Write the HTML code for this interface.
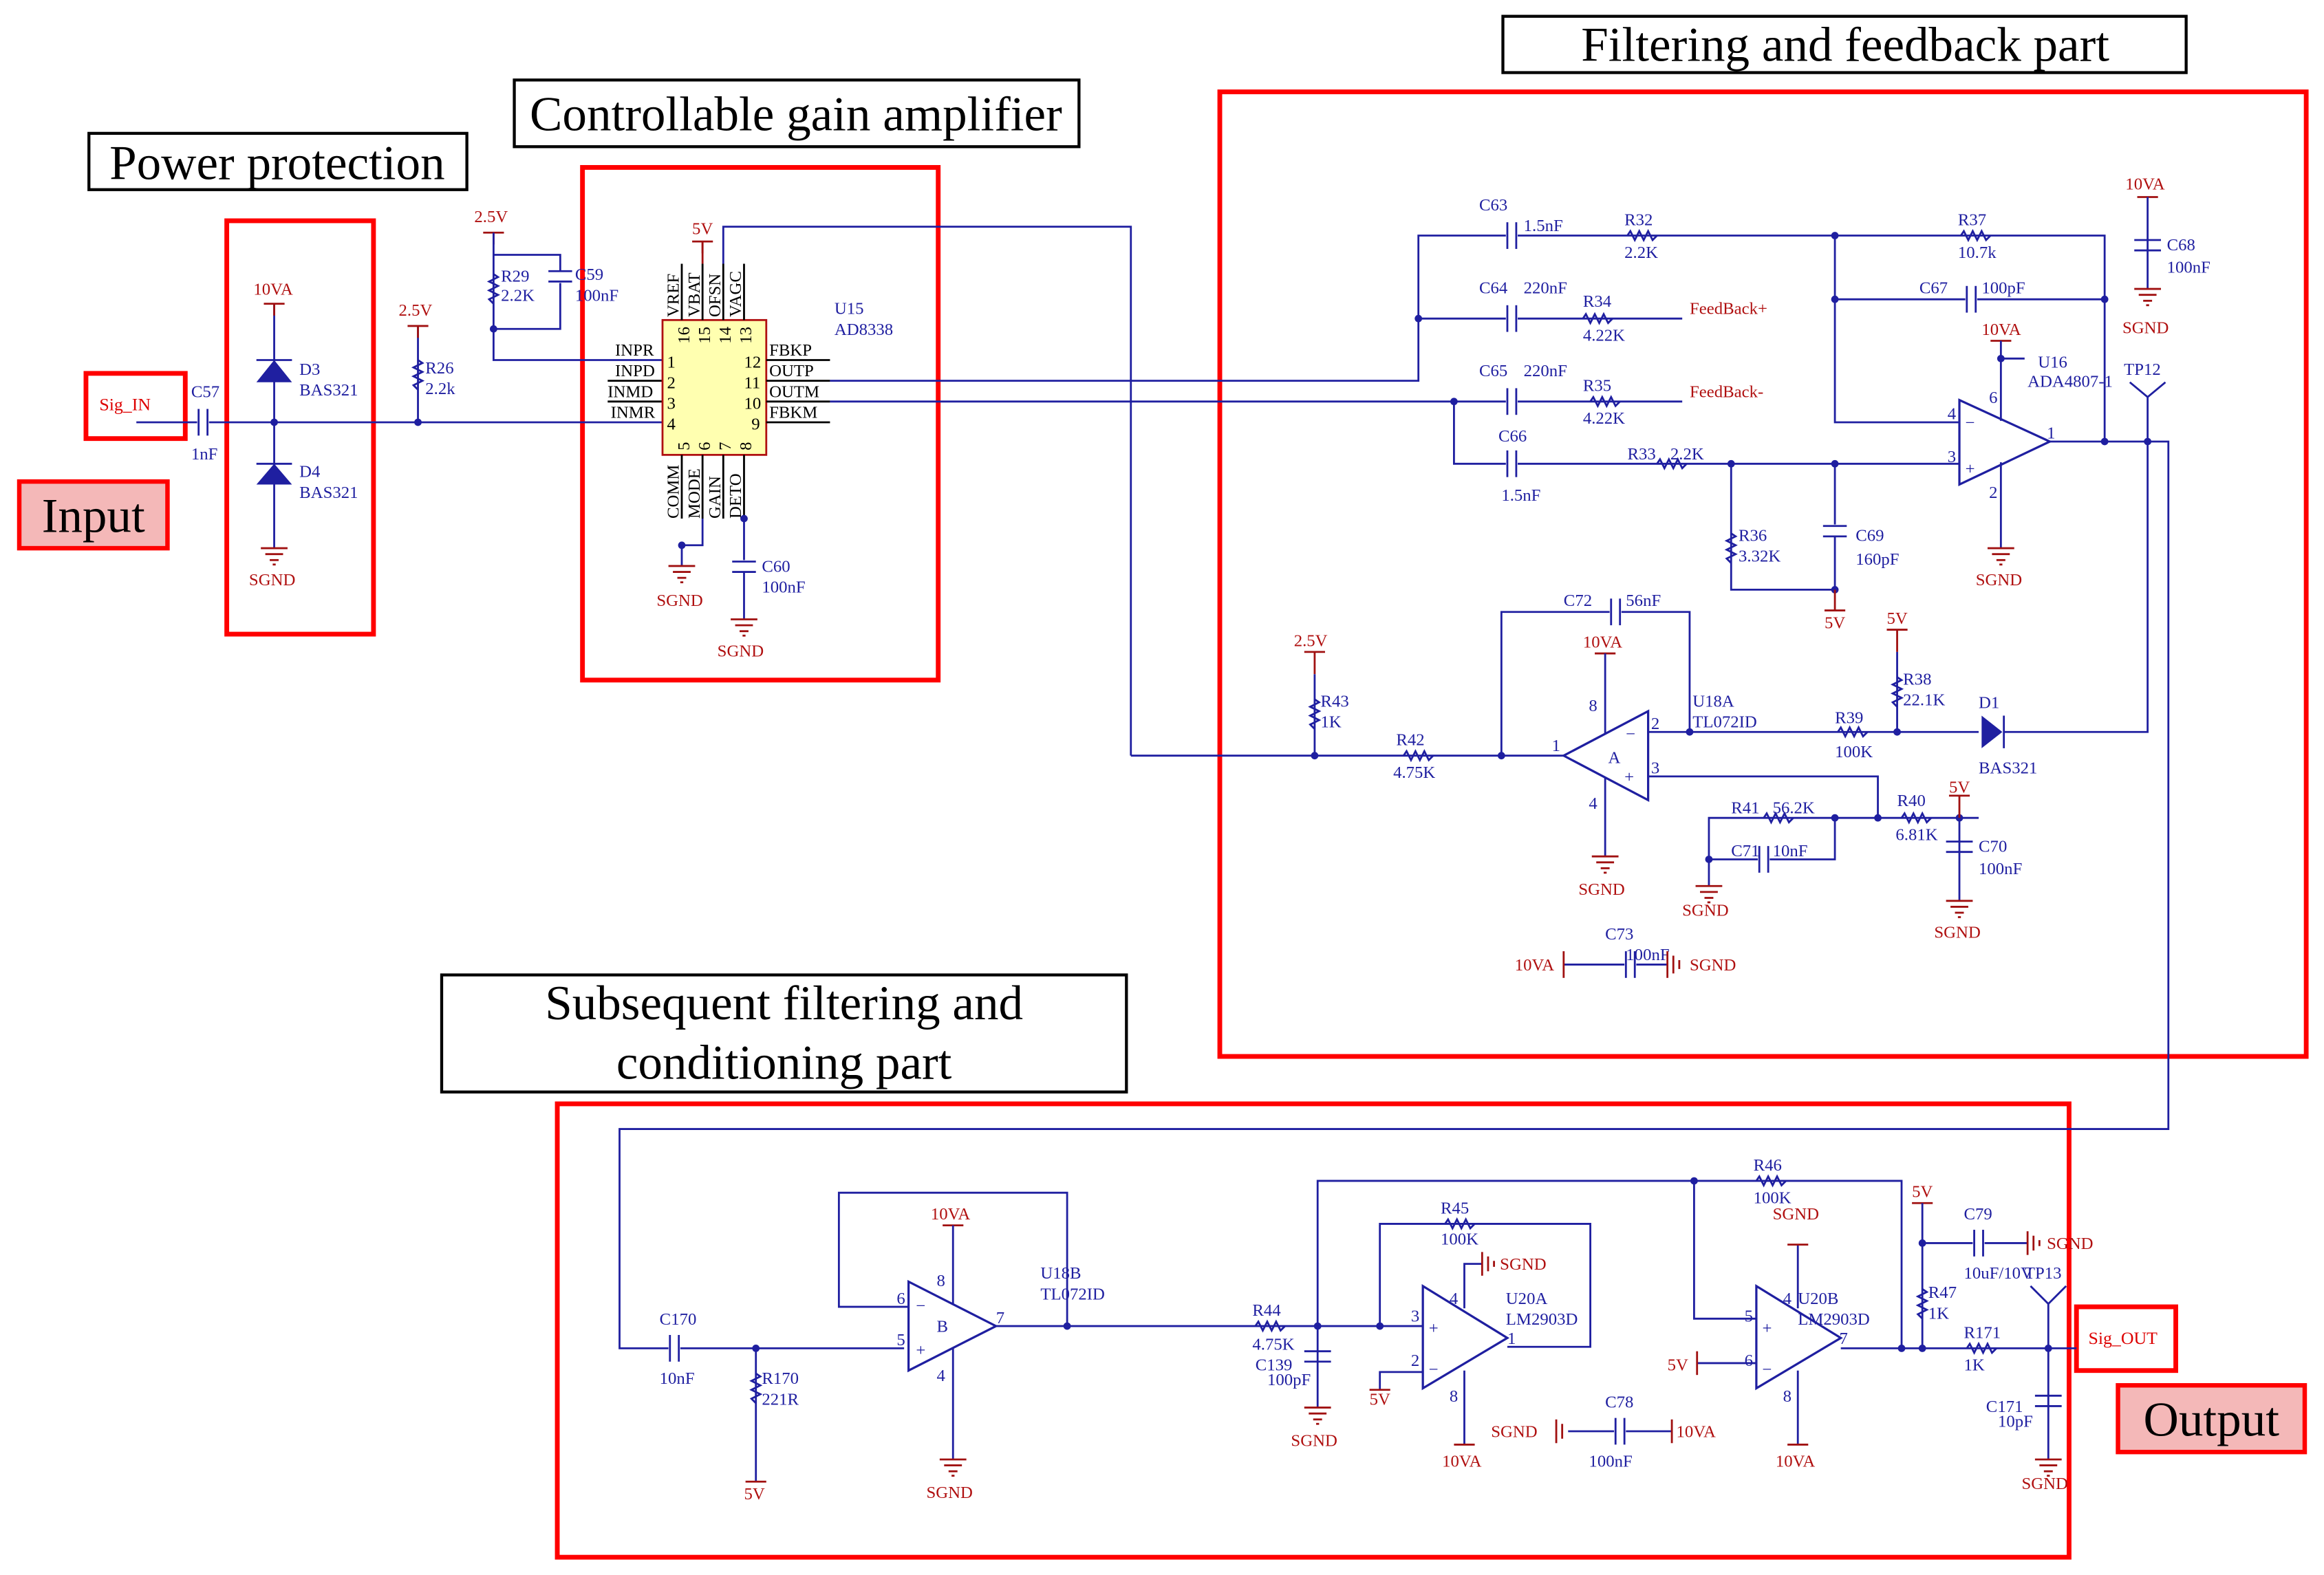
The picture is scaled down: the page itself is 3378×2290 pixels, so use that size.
<!DOCTYPE html>
<html><head><meta charset="utf-8"><style>
html,body{margin:0;padding:0;background:#fff}
svg{display:block}
text{font-family:"Liberation Serif",serif}
.w{stroke:#1f1fa0;stroke-width:1.3;fill:none}
.k{stroke:#000;stroke-width:1.3;fill:none}
.r{stroke:#a01010;stroke-width:1.3;fill:none}
.L{fill:#1f1fa0;font-size:11.5px}
.P{fill:#b01010;font-size:11.5px}
.B{fill:#000;font-size:11.5px}
.box{fill:none;stroke:#ff0000;stroke-width:3.2}
.tb{fill:#fff;stroke:#000;stroke-width:2}
.T{font-size:33px;fill:#000}
</style></head><body>
<svg width="3378" height="2290" viewBox="0 0 1568 1063" preserveAspectRatio="none" xmlns="http://www.w3.org/2000/svg">
<defs>
<g id="res"><polyline class="w" points="-10,0 -8,-3 -5,3 -2,-3 1,3 4,-3 7,3 10,0"/></g>
<g id="cap"><rect x="-4" y="-9" width="8" height="18" fill="#fff"/><line class="w" x1="-3" y1="-9" x2="-3" y2="9"/><line class="w" x1="3" y1="-9" x2="3" y2="9"/></g>
<g id="gnd"><line class="r" x1="-9" y1="0" x2="9" y2="0"/><line class="r" x1="-6" y1="4" x2="6" y2="4"/><line class="r" x1="-3" y1="8" x2="3" y2="8"/><line class="r" x1="-1" y1="11" x2="1" y2="11"/></g>
<g id="pwr"><line class="r" x1="-7" y1="0" x2="7" y2="0"/><line class="r" x1="0" y1="0" x2="0" y2="8"/></g>
</defs>

<!-- titles -->
<rect class="tb" x="60" y="90" width="255" height="38"/><text class="T" x="187" y="121" text-anchor="middle">Power protection</text>
<rect class="tb" x="347" y="54" width="381" height="45"/><text class="T" x="537" y="88" text-anchor="middle">Controllable gain amplifier</text>
<rect class="tb" x="1014" y="11" width="461" height="38"/><text class="T" x="1245" y="41" text-anchor="middle">Filtering and feedback part</text>
<rect class="tb" x="298" y="658" width="462" height="79"/><text class="T" x="529" y="688" text-anchor="middle">Subsequent filtering and</text><text class="T" x="529" y="728" text-anchor="middle">conditioning part</text>
<rect x="13" y="325" width="100" height="45" fill="#f4b8b8" stroke="#f00" stroke-width="3"/><text class="T" x="63" y="359" text-anchor="middle">Input</text>
<rect x="1429" y="935" width="126" height="45" fill="#f4b8b8" stroke="#f00" stroke-width="3"/><text class="T" x="1492" y="969" text-anchor="middle">Output</text>

<!-- red boxes -->
<rect class="box" x="153" y="149" width="99" height="279"/>
<rect class="box" x="393" y="113" width="240" height="346"/>
<rect class="box" x="823" y="62" width="733" height="651"/>
<rect class="box" x="376" y="745" width="1020" height="306"/>
<rect class="box" x="58" y="252" width="67" height="44"/>
<rect class="box" x="1401" y="882" width="67" height="43"/>

<!-- ===== input section ===== -->
<text x="67" y="277" fill="#d00" font-size="12" font-family="Liberation Mono">Sig_IN</text>
<line class="w" x1="92" y1="285" x2="447" y2="285"/>
<use href="#cap" x="137" y="285"/><text class="L" x="129" y="268">C57</text><text class="L" x="129" y="310">1nF</text>
<circle cx="185" cy="285" r="2.5" fill="#1f1fa0"/>
<line class="w" x1="185" y1="205" x2="185" y2="370"/>
<use href="#pwr" x="185" y="205"/>
<text class="P" x="171" y="199">10VA</text>
<polygon points="173,258 197,258 185,243" fill="#1f1fa0"/><line class="w" x1="173" y1="243" x2="197" y2="243"/>
<text class="L" x="202" y="253">D3</text><text class="L" x="202" y="267">BAS321</text>
<polygon points="173,327 197,327 185,313" fill="#1f1fa0"/><line class="w" x1="173" y1="313" x2="197" y2="313"/>
<text class="L" x="202" y="322">D4</text><text class="L" x="202" y="336">BAS321</text>
<use href="#gnd" x="185" y="370"/><text class="P" x="168" y="395">SGND</text>
<circle cx="282" cy="285" r="2.5" fill="#1f1fa0"/>
<line class="w" x1="282" y1="220" x2="282" y2="285"/><use href="#pwr" x="282" y="220"/><text class="P" x="269" y="213">2.5V</text>
<use href="#res" transform="translate(282,253) rotate(90)"/><text class="L" x="287" y="252">R26</text><text class="L" x="287" y="266">2.2k</text>
<use href="#pwr" x="333" y="157"/><text class="P" x="320" y="150">2.5V</text>
<polyline class="w" points="333,157 333,243 447,243"/>
<use href="#res" transform="translate(333,195) rotate(90)"/><text class="L" x="338" y="190">R29</text><text class="L" x="338" y="203">2.2K</text>
<polyline class="w" points="333,172 378,172 378,222 333,222"/><circle cx="333" cy="222" r="2.5" fill="#1f1fa0"/>
<rect x="370" y="183" width="16" height="8" fill="#fff"/><line class="w" x1="370" y1="183" x2="386" y2="183"/><line class="w" x1="370" y1="190" x2="386" y2="190"/>
<text class="L" x="388" y="189">C59</text><text class="L" x="388" y="203">100nF</text>
<line class="k" x1="410" y1="257" x2="447" y2="257"/><line class="k" x1="410" y1="271" x2="447" y2="271"/>
<text class="B" x="415" y="240">INPR</text><text class="B" x="415" y="254">INPD</text><text class="B" x="410" y="268">INMD</text><text class="B" x="412" y="282">INMR</text>

<!-- chip -->
<rect x="447" y="216" width="70" height="91" fill="#ffffb0" stroke="#b01010" stroke-width="1.3"/>
<line class="k" x1="460" y1="178" x2="460" y2="216"/><line class="k" x1="474" y1="178" x2="474" y2="216"/><line class="k" x1="488" y1="178" x2="488" y2="216"/><line class="k" x1="502" y1="178" x2="502" y2="216"/>
<line class="r" x1="474" y1="163" x2="474" y2="178"/><use href="#pwr" x="474" y="163"/><text class="P" x="467" y="158">5V</text>
<polyline class="w" points="488,178 488,153 763,153 763,510"/>
<g class="B" font-size="11"><text transform="translate(458,214) rotate(-90)">VREF</text><text transform="translate(472,214) rotate(-90)">VBAT</text><text transform="translate(486,214) rotate(-90)">OFSN</text><text transform="translate(500,214) rotate(-90)">VAGC</text>
<text transform="translate(465,232) rotate(-90)">16</text><text transform="translate(479,232) rotate(-90)">15</text><text transform="translate(493,232) rotate(-90)">14</text><text transform="translate(507,232) rotate(-90)">13</text>
<text x="450" y="248">1</text><text x="450" y="262">2</text><text x="450" y="276">3</text><text x="450" y="290">4</text>
<text x="502" y="248">12</text><text x="502" y="262">11</text><text x="502" y="276">10</text><text x="507" y="290">9</text>
<text transform="translate(465,304) rotate(-90)">5</text><text transform="translate(479,304) rotate(-90)">6</text><text transform="translate(493,304) rotate(-90)">7</text><text transform="translate(507,304) rotate(-90)">8</text>
<text transform="translate(458,350) rotate(-90)">COMM</text><text transform="translate(472,350) rotate(-90)">MODE</text><text transform="translate(486,350) rotate(-90)">GAIN</text><text transform="translate(500,350) rotate(-90)">DETO</text>
<text x="519" y="240">FBKP</text><text x="519" y="254">OUTP</text><text x="519" y="268">OUTM</text><text x="519" y="282">FBKM</text></g>
<line class="k" x1="517" y1="243" x2="560" y2="243"/><line class="k" x1="517" y1="257" x2="560" y2="257"/><line class="k" x1="517" y1="271" x2="560" y2="271"/><line class="k" x1="517" y1="285" x2="560" y2="285"/>
<line class="k" x1="460" y1="307" x2="460" y2="350"/><line class="k" x1="474" y1="307" x2="474" y2="350"/><line class="k" x1="488" y1="307" x2="488" y2="350"/><line class="k" x1="502" y1="307" x2="502" y2="350"/>
<text class="L" x="563" y="212">U15</text><text class="L" x="563" y="226">AD8338</text>
<polyline class="w" points="474,350 474,368 460,368 460,382"/><circle cx="460" cy="368" r="2.5" fill="#1f1fa0"/>
<use href="#gnd" x="460" y="382"/><text class="P" x="443" y="409">SGND</text>
<polyline class="w" points="502,350 502,418"/><circle cx="502" cy="350" r="2.5" fill="#1f1fa0"/>
<rect x="494" y="378" width="16" height="8" fill="#fff"/><line class="w" x1="494" y1="379" x2="510" y2="379"/><line class="w" x1="494" y1="386" x2="510" y2="386"/>
<text class="L" x="514" y="386">C60</text><text class="L" x="514" y="400">100nF</text>
<use href="#gnd" x="502" y="418"/><text class="P" x="484" y="443">SGND</text>

<!-- ===== filtering/feedback ===== -->
<polyline class="w" points="560,257 957,257 957,159 1420,159 1420,298"/>
<use href="#cap" x="1020" y="159"/><text class="L" x="998" y="142">C63</text><text class="L" x="1028" y="156">1.5nF</text>
<use href="#res" x="1108" y="159"/><text class="L" x="1096" y="152">R32</text><text class="L" x="1096" y="174">2.2K</text>
<use href="#res" x="1333" y="159"/><text class="L" x="1321" y="152">R37</text><text class="L" x="1321" y="174">10.7k</text>
<circle cx="1238" cy="159" r="2.5" fill="#1f1fa0"/><circle cx="957" cy="215" r="2.5" fill="#1f1fa0"/>
<polyline class="w" points="957,215 1135,215"/>
<use href="#cap" x="1020" y="215"/><text class="L" x="998" y="198">C64</text><text class="L" x="1028" y="198">220nF</text>
<use href="#res" x="1078" y="215"/><text class="L" x="1068" y="207">R34</text><text class="L" x="1068" y="230">4.22K</text>
<text class="P" x="1140" y="212">FeedBack+</text>
<polyline class="w" points="1238,159 1238,285 1322,285"/>
<polyline class="w" points="1238,202 1420,202"/><circle cx="1238" cy="202" r="2.5" fill="#1f1fa0"/><circle cx="1420" cy="202" r="2.5" fill="#1f1fa0"/>
<use href="#cap" x="1330" y="202"/><text class="L" x="1295" y="198">C67</text><text class="L" x="1337" y="198">100pF</text>
<polyline class="w" points="560,271 1135,271"/><circle cx="981" cy="271" r="2.5" fill="#1f1fa0"/>
<use href="#cap" x="1020" y="271"/><text class="L" x="998" y="254">C65</text><text class="L" x="1028" y="254">220nF</text>
<use href="#res" x="1083" y="271"/><text class="L" x="1068" y="264">R35</text><text class="L" x="1068" y="286">4.22K</text>
<text class="P" x="1140" y="268">FeedBack-</text>
<polyline class="w" points="981,271 981,313 1322,313"/>
<use href="#cap" x="1020" y="313"/><text class="L" x="1011" y="298">C66</text><text class="L" x="1013" y="338">1.5nF</text>
<use href="#res" x="1128" y="313"/><text class="L" x="1098" y="310">R33</text><text class="L" x="1127" y="310">2.2K</text>
<circle cx="1168" cy="313" r="2.5" fill="#1f1fa0"/><circle cx="1238" cy="313" r="2.5" fill="#1f1fa0"/>
<polyline class="w" points="1168,313 1168,398 1238,398 1238,313"/><circle cx="1238" cy="398" r="2.5" fill="#1f1fa0"/>
<use href="#res" transform="translate(1168,370) rotate(90)"/><text class="L" x="1173" y="365">R36</text><text class="L" x="1173" y="379">3.32K</text>
<rect x="1230" y="354" width="16" height="8" fill="#fff"/><line class="w" x1="1230" y1="355" x2="1246" y2="355"/><line class="w" x1="1230" y1="362" x2="1246" y2="362"/>
<text class="L" x="1252" y="365">C69</text><text class="L" x="1252" y="381">160pF</text>
<line class="r" x1="1238" y1="398" x2="1238" y2="412"/><line class="r" x1="1231" y1="412" x2="1245" y2="412"/><text class="P" x="1231" y="424">5V</text>
<!-- U16 -->
<polygon points="1322,270 1322,327 1383,298" fill="#fff" stroke="#1f1fa0" stroke-width="1.5"/>
<text class="L" x="1326" y="289" font-size="14">−</text><text class="L" x="1326" y="320" font-size="14">+</text>
<text class="L" x="1314" y="283">4</text><text class="L" x="1314" y="312">3</text><text class="L" x="1381" y="296">1</text>
<line class="w" x1="1350" y1="312" x2="1350" y2="370"/>
<text class="P" x="1337" y="226">10VA</text><line class="r" x1="1343" y1="230" x2="1357" y2="230"/><polyline class="w" points="1350,230 1350,284"/><circle cx="1350" cy="242" r="2.5" fill="#1f1fa0"/><line class="w" x1="1350" y1="242" x2="1366" y2="242"/>
<text class="L" x="1342" y="272">6</text><text class="L" x="1342" y="336">2</text>
<use href="#gnd" x="1350" y="370"/><text class="P" x="1333" y="395">SGND</text>
<text class="L" x="1375" y="248">U16</text><text class="L" x="1368" y="261">ADA4807-1</text>
<polyline class="w" points="1383,298 1463,298 1463,762 418,762 418,910 610,910"/>
<circle cx="1420" cy="298" r="2.5" fill="#1f1fa0"/><circle cx="1449" cy="298" r="2.5" fill="#1f1fa0"/>
<line class="w" x1="1449" y1="298" x2="1449" y2="268"/><line class="w" x1="1449" y1="268" x2="1437" y2="258"/><line class="w" x1="1449" y1="268" x2="1461" y2="258"/>
<text class="L" x="1433" y="253">TP12</text>
<text class="P" x="1434" y="128">10VA</text><polyline class="r" points="1442,133 1456,133"/><line class="w" x1="1449" y1="133" x2="1449" y2="195"/>
<line class="w" x1="1440" y1="162" x2="1458" y2="162"/><line class="w" x1="1440" y1="169" x2="1458" y2="169"/>
<text class="L" x="1462" y="169">C68</text><text class="L" x="1462" y="184">100nF</text>
<use href="#gnd" x="1449" y="195"/><text class="P" x="1432" y="225">SGND</text>

<!-- lower op amp U18A -->
<polyline class="w" points="763,510 1055,510"/>
<circle cx="887" cy="510" r="2.5" fill="#1f1fa0"/><circle cx="1013" cy="510" r="2.5" fill="#1f1fa0"/>
<line class="r" x1="887" y1="440" x2="887" y2="455"/><line class="r" x1="880" y1="440" x2="894" y2="440"/><text class="P" x="873" y="436">2.5V</text>
<line class="w" x1="887" y1="455" x2="887" y2="510"/><use href="#res" transform="translate(887,482) rotate(90)"/><text class="L" x="891" y="477">R43</text><text class="L" x="891" y="491">1K</text>
<use href="#res" x="957" y="510"/><text class="L" x="942" y="503">R42</text><text class="L" x="940" y="525">4.75K</text>
<polyline class="w" points="1013,510 1013,413 1140,413 1140,494"/>
<use href="#cap" x="1090" y="413"/><text class="L" x="1055" y="409">C72</text><text class="L" x="1097" y="409">56nF</text>
<polygon points="1055,510 1112,480 1112,540" fill="#fff" stroke="#1f1fa0" stroke-width="1.5"/>
<text class="L" x="1097" y="499" font-size="14">−</text><text class="L" x="1096" y="528" font-size="14">+</text><text class="L" x="1085" y="515">A</text>
<text class="L" x="1114" y="492">2</text><text class="L" x="1114" y="522">3</text><text class="L" x="1047" y="507">1</text>
<text class="L" x="1072" y="480">8</text><text class="L" x="1072" y="546">4</text>
<text class="P" x="1068" y="437">10VA</text><line class="r" x1="1076" y1="441" x2="1090" y2="441"/><line class="w" x1="1083" y1="441" x2="1083" y2="495"/>
<line class="w" x1="1083" y1="525" x2="1083" y2="578"/><use href="#gnd" x="1083" y="578"/><text class="P" x="1065" y="604">SGND</text>
<text class="L" x="1142" y="477">U18A</text><text class="L" x="1142" y="491">TL072ID</text>
<polyline class="w" points="1112,494 1335,494"/><circle cx="1140" cy="494" r="2.5" fill="#1f1fa0"/><circle cx="1280" cy="494" r="2.5" fill="#1f1fa0"/>
<use href="#res" x="1250" y="494"/><text class="L" x="1238" y="488">R39</text><text class="L" x="1238" y="511">100K</text>
<line class="r" x1="1280" y1="425" x2="1280" y2="440"/><line class="r" x1="1273" y1="425" x2="1287" y2="425"/><text class="P" x="1273" y="421">5V</text>
<line class="w" x1="1280" y1="440" x2="1280" y2="494"/><use href="#res" transform="translate(1280,467) rotate(90)"/><text class="L" x="1284" y="462">R38</text><text class="L" x="1284" y="476">22.1K</text>
<polygon points="1337,483 1337,505 1351,494" fill="#1f1fa0"/><line class="w" x1="1352" y1="483" x2="1352" y2="505"/>
<text class="L" x="1335" y="478">D1</text><text class="L" x="1335" y="522">BAS321</text>
<polyline class="w" points="1352,494 1449,494 1449,298"/>
<polyline class="w" points="1112,524 1267,524 1267,552 1335,552"/><circle cx="1267" cy="552" r="2.5" fill="#1f1fa0"/>
<polyline class="w" points="1267,552 1153,552 1153,598"/>
<use href="#res" x="1200" y="552"/><text class="L" x="1168" y="549">R41</text><text class="L" x="1196" y="549">56.2K</text>
<polyline class="w" points="1153,580 1238,580 1238,552"/><circle cx="1153" cy="580" r="2.5" fill="#1f1fa0"/><circle cx="1238" cy="552" r="2.5" fill="#1f1fa0"/>
<use href="#cap" x="1190" y="580"/><text class="L" x="1168" y="578">C71</text><text class="L" x="1196" y="578">10nF</text>
<use href="#gnd" x="1153" y="598"/><text class="P" x="1135" y="618">SGND</text>
<use href="#res" x="1293" y="552"/><text class="L" x="1280" y="544">R40</text><text class="L" x="1279" y="567">6.81K</text>
<circle cx="1322" cy="552" r="2.5" fill="#1f1fa0"/>
<line class="r" x1="1322" y1="537" x2="1322" y2="552"/><line class="r" x1="1315" y1="537" x2="1329" y2="537"/><text class="P" x="1315" y="535">5V</text>
<line class="w" x1="1322" y1="552" x2="1322" y2="608"/>
<line class="w" x1="1313" y1="568" x2="1331" y2="568"/><line class="w" x1="1313" y1="575" x2="1331" y2="575"/>
<text class="L" x="1335" y="575">C70</text><text class="L" x="1335" y="590">100nF</text>
<use href="#gnd" x="1322" y="608"/><text class="P" x="1305" y="633">SGND</text>
<text class="P" x="1022" y="655">10VA</text><line class="w" x1="1055" y1="651" x2="1125" y2="651"/><line class="r" x1="1055" y1="642" x2="1055" y2="660"/>
<use href="#cap" x="1100" y="651"/><text class="L" x="1083" y="634">C73</text><text class="L" x="1097" y="648">100nF</text>
<line class="r" x1="1125" y1="642" x2="1125" y2="660"/><line class="r" x1="1129" y1="645" x2="1129" y2="657"/><line class="r" x1="1133" y1="648" x2="1133" y2="654"/><text class="P" x="1140" y="655">SGND</text>

<!-- ===== subsequent ===== -->
<use href="#cap" x="455" y="910"/><text class="L" x="445" y="894">C170</text><text class="L" x="445" y="934">10nF</text>
<circle cx="510" cy="910" r="2.5" fill="#1f1fa0"/>
<line class="w" x1="510" y1="910" x2="510" y2="1000"/><use href="#res" transform="translate(510,937) rotate(90)"/>
<text class="L" x="514" y="934">R170</text><text class="L" x="514" y="948">221R</text>
<line class="r" x1="503" y1="1000" x2="517" y2="1000"/><text class="P" x="502" y="1012">5V</text>
<polygon points="613,865 613,925 672,895" fill="#fff" stroke="#1f1fa0" stroke-width="1.5"/>
<text class="L" x="618" y="885" font-size="14">−</text><text class="L" x="618" y="915" font-size="14">+</text><text class="L" x="632" y="899">B</text>
<text class="L" x="605" y="880">6</text><text class="L" x="605" y="908">5</text><text class="L" x="672" y="893">7</text>
<text class="L" x="632" y="868">8</text><text class="L" x="632" y="932">4</text>
<polyline class="w" points="613,882 566,882 566,805 720,805 720,895"/>
<text class="P" x="628" y="823">10VA</text><line class="r" x1="636" y1="827" x2="650" y2="827"/><line class="w" x1="643" y1="827" x2="643" y2="880"/>
<line class="w" x1="643" y1="910" x2="643" y2="985"/><use href="#gnd" x="643" y="985"/><text class="P" x="625" y="1011">SGND</text>
<text class="L" x="702" y="863">U18B</text><text class="L" x="702" y="877">TL072ID</text>
<polyline class="w" points="672,895 960,895"/><circle cx="720" cy="895" r="2.5" fill="#1f1fa0"/><circle cx="889" cy="895" r="2.5" fill="#1f1fa0"/><circle cx="931" cy="895" r="2.5" fill="#1f1fa0"/>
<use href="#res" x="857" y="895"/><text class="L" x="845" y="888">R44</text><text class="L" x="845" y="911">4.75K</text>
<line class="w" x1="889" y1="895" x2="889" y2="950"/>
<line class="w" x1="880" y1="912" x2="898" y2="912"/><line class="w" x1="880" y1="919" x2="898" y2="919"/>
<text class="L" x="847" y="925">C139</text><text class="L" x="855" y="935">100pF</text>
<use href="#gnd" x="889" y="950"/><text class="P" x="871" y="976">SGND</text>
<polyline class="w" points="889,895 889,797 1283,797 1283,910"/><circle cx="1143" cy="797" r="2.5" fill="#1f1fa0"/>
<polyline class="w" points="931,895 931,826 1073,826 1073,909 1017,909"/>
<use href="#res" x="985" y="826"/><text class="L" x="972" y="819">R45</text><text class="L" x="972" y="840">100K</text>
<polygon points="960,868 960,937 1017,903" fill="#fff" stroke="#1f1fa0" stroke-width="1.5"/>
<text class="L" x="964" y="900" font-size="14">+</text><text class="L" x="964" y="928" font-size="14">−</text>
<text class="L" x="952" y="892">3</text><text class="L" x="952" y="922">2</text><text class="L" x="1017" y="907">1</text>
<text class="L" x="978" y="880">4</text><text class="L" x="978" y="946">8</text>
<polyline class="w" points="988,883 988,853 1000,853"/><line class="r" x1="1000" y1="845" x2="1000" y2="861"/><line class="r" x1="1004" y1="848" x2="1004" y2="858"/><line class="r" x1="1008" y1="851" x2="1008" y2="855"/><text class="P" x="1012" y="857">SGND</text>
<text class="L" x="1016" y="880">U20A</text><text class="L" x="1016" y="894">LM2903D</text>
<polyline class="w" points="960,926 931,926 931,938"/><line class="r" x1="924" y1="938" x2="938" y2="938"/><text class="P" x="924" y="948">5V</text>
<line class="w" x1="988" y1="925" x2="988" y2="975"/><line class="r" x1="981" y1="975" x2="995" y2="975"/><text class="P" x="973" y="990">10VA</text>
<text class="P" x="1006" y="970">SGND</text><line class="r" x1="1050" y1="958" x2="1050" y2="974"/><line class="r" x1="1054" y1="961" x2="1054" y2="971"/><line class="w" x1="1058" y1="966" x2="1128" y2="966"/>
<use href="#cap" x="1093" y="966"/><text class="L" x="1083" y="950">C78</text><text class="L" x="1072" y="990">100nF</text>
<line class="r" x1="1128" y1="958" x2="1128" y2="974"/><text class="P" x="1131" y="970">10VA</text>
<polyline class="w" points="1143,797 1143,890 1185,890"/>
<use href="#res" x="1195" y="797"/><text class="L" x="1183" y="790">R46</text><text class="L" x="1183" y="812">100K</text>
<polygon points="1185,868 1185,937 1242,903" fill="#fff" stroke="#1f1fa0" stroke-width="1.5"/>
<text class="L" x="1189" y="900" font-size="14">+</text><text class="L" x="1189" y="928" font-size="14">−</text>
<text class="L" x="1177" y="892">5</text><text class="L" x="1177" y="922">6</text><text class="L" x="1241" y="907">7</text>
<text class="L" x="1203" y="880">4</text><text class="L" x="1203" y="946">8</text>
<polyline class="w" points="1213,883 1213,840"/><line class="r" x1="1206" y1="840" x2="1220" y2="840"/><text class="P" x="1196" y="823">SGND</text>
<text class="L" x="1213" y="880">U20B</text><text class="L" x="1213" y="894">LM2903D</text>
<polyline class="w" points="1185,920 1145,920"/><line class="r" x1="1145" y1="912" x2="1145" y2="928"/><text class="P" x="1125" y="925">5V</text>
<line class="w" x1="1213" y1="925" x2="1213" y2="975"/><line class="r" x1="1206" y1="975" x2="1220" y2="975"/><text class="P" x="1198" y="990">10VA</text>
<polyline class="w" points="1242,910 1401,910"/><circle cx="1283" cy="910" r="2.5" fill="#1f1fa0"/><circle cx="1297" cy="910" r="2.5" fill="#1f1fa0"/><circle cx="1382" cy="910" r="2.5" fill="#1f1fa0"/>
<line class="r" x1="1290" y1="812" x2="1304" y2="812"/><text class="P" x="1290" y="808">5V</text>
<polyline class="w" points="1297,812 1297,910"/><circle cx="1297" cy="839" r="2.5" fill="#1f1fa0"/>
<use href="#res" transform="translate(1297,880) rotate(90)"/><text class="L" x="1301" y="876">R47</text><text class="L" x="1301" y="890">1K</text>
<line class="w" x1="1297" y1="839" x2="1368" y2="839"/><use href="#cap" x="1335" y="839"/>
<text class="L" x="1325" y="823">C79</text><text class="L" x="1325" y="863">10uF/10V</text>
<line class="r" x1="1368" y1="831" x2="1368" y2="847"/><line class="r" x1="1372" y1="834" x2="1372" y2="844"/><line class="r" x1="1376" y1="837" x2="1376" y2="841"/><text class="P" x="1381" y="843">SGND</text>
<use href="#res" x="1337" y="910"/><text class="L" x="1325" y="903">R171</text><text class="L" x="1325" y="925">1K</text>
<line class="w" x1="1382" y1="880" x2="1382" y2="985"/><line class="w" x1="1382" y1="880" x2="1370" y2="868"/><line class="w" x1="1382" y1="880" x2="1394" y2="868"/>
<text class="L" x="1366" y="863">TP13</text>
<line class="w" x1="1373" y1="942" x2="1391" y2="942"/><line class="w" x1="1373" y1="949" x2="1391" y2="949"/>
<text class="L" x="1340" y="953">C171</text><text class="L" x="1348" y="963">10pF</text>
<use href="#gnd" x="1382" y="985"/><text class="P" x="1364" y="1005">SGND</text>
<text x="1409" y="907" fill="#d00" font-size="12" font-family="Liberation Serif">Sig_OUT</text>
</svg>
</body></html>
